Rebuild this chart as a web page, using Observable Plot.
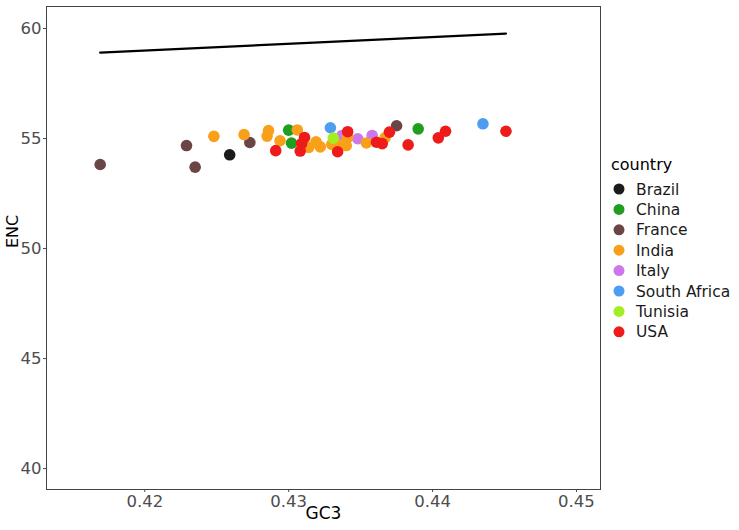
<!DOCTYPE html>
<html><head><meta charset="utf-8">
<script src="https://cdn.jsdelivr.net/npm/d3@7"></script>
<script src="https://cdn.jsdelivr.net/npm/@observablehq/plot@0.6"></script>
<style>body{margin:0;background:#fff;} #wrap{width:739px;height:530px;}</style>
</head><body><div id="wrap"></div>
<script>
const countries = ["Brazil","China","France","India","Italy","South Africa","Tunisia","USA"];
const countryColors = ["#1b1b1b","#1f9e1f","#6b4545","#f9a01b","#cc77ee","#4d9ef0","#a2ee22","#ee1b1b"];
const drawOrder = ["France","Brazil","China","Italy","South Africa","India","Tunisia","USA"];

const pointCountry = [
  "France","France","France","France","France",
  "Brazil",
  "India","India","India","India","India","India","India","India","India","India","India","India","India","India","India",
  "China","China","China",
  "USA","USA","USA","USA","USA","USA","USA","USA","USA","USA","USA","USA","USA",
  "South Africa","South Africa",
  "Tunisia",
  "Italy","Italy","Italy"
];
const pointGC3 = [
  0.4169,0.4229,0.4235,0.4273,0.4375,
  0.4259,
  0.4248,0.4269,0.4286,0.4285,0.4294,0.4306,0.4314,0.4319,0.4322,0.4330,0.4335,0.4340,0.4341,0.4354,0.4367,
  0.4300,0.4302,0.4390,
  0.4291,0.4311,0.4309,0.4308,0.4334,0.4341,0.4361,0.4365,0.4370,0.4383,0.4404,0.4409,0.4451,
  0.4329,0.4435,
  0.4331,
  0.4337,0.4348,0.4358
];
const pointENC = [
  53.82,54.68,53.70,54.82,55.58,
  54.26,
  55.10,55.18,55.36,55.11,54.90,55.39,54.60,54.85,54.62,54.73,54.73,54.68,55.05,54.80,55.03,
  55.38,54.79,55.44,
  54.45,55.05,54.77,54.43,54.40,55.31,54.83,54.77,55.29,54.71,55.03,55.33,55.33,
  55.49,55.67,
  55.02,
  55.14,54.99,55.14
];
const lineGC3 = [0.4169, 0.4310, 0.4451];
const lineENC = [58.90, 59.34, 59.77];
const xTicks = [0.42, 0.43, 0.44, 0.45];
const yTicks = [40, 45, 50, 55, 60];

const points = pointCountry.map((c, i) => ({country: c, gc3: pointGC3[i], enc: pointENC[i]}))
  .sort((a, b) => drawOrder.indexOf(a.country) - drawOrder.indexOf(b.country));
const curve = lineGC3.map((x, i) => ({gc3: x, enc: lineENC[i]}));

const FONT = "DejaVu Sans, Liberation Sans, Arial, sans-serif";
const plot = Plot.plot({
  width: 739, height: 530,
  marginLeft: 46, marginRight: 139, marginTop: 6, marginBottom: 41,
  style: {fontFamily: FONT, background: "#fff"},
  x: {domain: [0.41317, 0.45167], label: null},
  y: {domain: [39.05, 61.0], label: null},
  color: {domain: countries, range: countryColors},
  marks: [
    Plot.axisX({ticks: xTicks, tickFormat: d3.format(".2f"), tickSize: 3, tickPadding: 3, fontSize: 16.5, color: "#4d4d4d", label: null}),
    Plot.axisY({ticks: yTicks, tickSize: 3, tickPadding: 2, fontSize: 16.5, color: "#4d4d4d", label: null}),
    Plot.line(curve, {x: "gc3", y: "enc", stroke: "#000", strokeWidth: 2.2}),
    Plot.dot(points, {x: "gc3", y: "enc", fill: "country", r: 5.8}),
    Plot.frame({stroke: "#444", strokeWidth: 1}),
    Plot.text(["GC3"], {text: d => d, frameAnchor: "bottom", dy: 29, fontSize: 17, fill: "#000"}),
    Plot.text(["ENC"], {text: d => d, frameAnchor: "left", dx: -34, rotate: -90, fontSize: 16, fill: "#000"})
  ]
});
document.getElementById("wrap").appendChild(plot);

const svg = d3.select(plot);
const lg = svg.append("g").attr("font-family", FONT).attr("text-anchor", "start");
lg.append("text").attr("x", 611).attr("y", 170).attr("font-size", 16).attr("fill", "#000").attr("text-anchor", "start").text("country");
countries.forEach((c, i) => {
  const y = 189 + i * 20.4;
  lg.append("circle").attr("cx", 619).attr("cy", y).attr("r", 5.5).attr("fill", countryColors[i]);
  lg.append("text").attr("x", 636).attr("y", y).attr("dy", "0.36em").attr("font-size", 15.5).attr("fill", "#1a1a1a").attr("text-anchor", "start").text(c);
});
</script>
</body></html>
